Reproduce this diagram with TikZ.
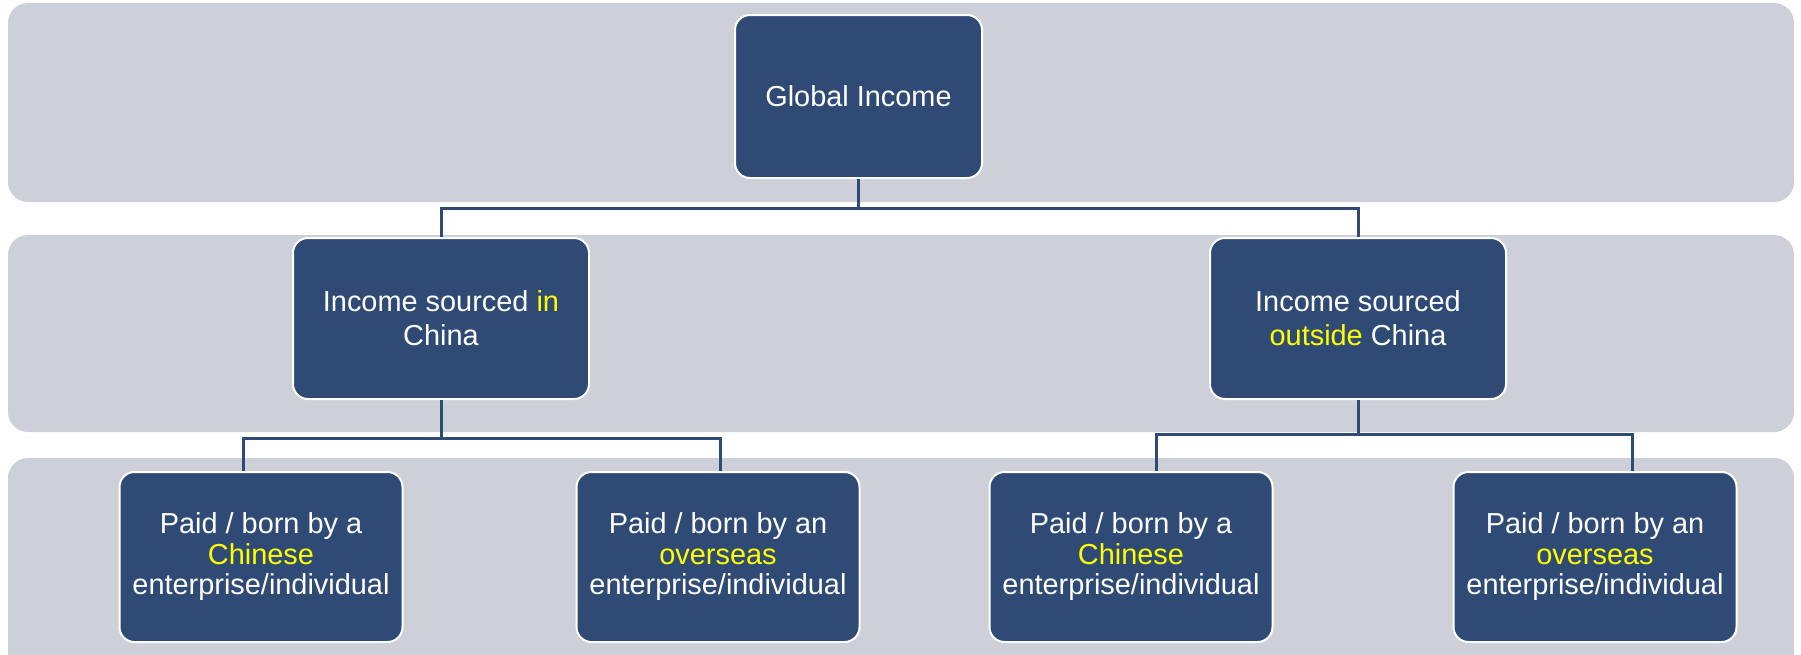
\documentclass[tikz,border=0pt]{standalone}
\usepackage{fontspec}
\setmainfont{Liberation Sans}
\pgfdeclarelayer{background layer}
\pgfsetlayers{background layer,main}
\definecolor{bandgray}{RGB}{205,208,216}
\definecolor{boxblue}{RGB}{47,75,117}
\definecolor{hiyellow}{RGB}{255,255,0}
\newcommand{\yel}[1]{\textcolor{hiyellow}{#1}}
\tikzstyle{band}=[fill=bandgray,rounded corners=10pt]
\tikzstyle{card}=[draw=white,line width=1pt,fill=boxblue,text=white,rounded corners=7.5pt,align=center,inner sep=0pt,font=\fontsize{14.45pt}{15.25pt}\selectfont]
\tikzstyle{root}=[card,minimum width=123.5pt,minimum height=81.5pt]
\tikzstyle{branch}=[card,minimum width=148pt,minimum height=80.5pt,font=\fontsize{14.45pt}{17pt}\selectfont]
\tikzstyle{leaf}=[card,minimum width=141.5pt,minimum height=85pt]
\tikzstyle{link}=[draw=boxblue,line width=1.5pt]

\begin{document}
\begin{tikzpicture}[x=0.5pt,y=-0.5pt]
			\useasboundingbox (0,0) rectangle (1801,654);
			\node (global) at (858.5,96.5) [root] {Global Income};
			\node (china) at (441,318.5) [branch] {Income sourced \yel{in}\\China};
			\node (abroad) at (1358,318.5) [branch] {Income sourced\\\yel{outside} China};
			\node (cnpay) at (261,557) [leaf] {Paid / born by a\\\yel{Chinese}\\enterprise/individual};
			\node (ospay) at (718,557) [leaf] {Paid / born by an\\\yel{overseas}\\enterprise/individual};
			\node (cnpay2) at (1131,557) [leaf] {Paid / born by a\\\yel{Chinese}\\enterprise/individual};
			\node (ospay2) at (1595,557) [leaf] {Paid / born by an\\\yel{overseas}\\enterprise/individual};
			\begin{pgfonlayer}{background layer}
				\fill[band] (8,3) rectangle (1794,202);
			\fill[band] (8,235) rectangle (1794,432);
			\fill[band] (8,458) rectangle (1794,700);
			\end{pgfonlayer}
			\draw[link] (global.south) -- ++(0,29) -| (china.north);
			\draw[link] (global.south) -- ++(0,29) -| (abroad.north);
			\draw[link] (china.south) -- ++(0,38) -| ([xshift=-9pt]cnpay.north);
			\draw[link] (china.south) -- ++(0,38) -| ([xshift=1pt]ospay.north);
			\draw[link] (abroad.south) -- ++(0,34) -| ([xshift=12.5pt]cnpay2.north);
			\draw[link] (abroad.south) -- ++(0,34) -| ([xshift=18.5pt]ospay2.north);
		\end{tikzpicture}
\end{document}
